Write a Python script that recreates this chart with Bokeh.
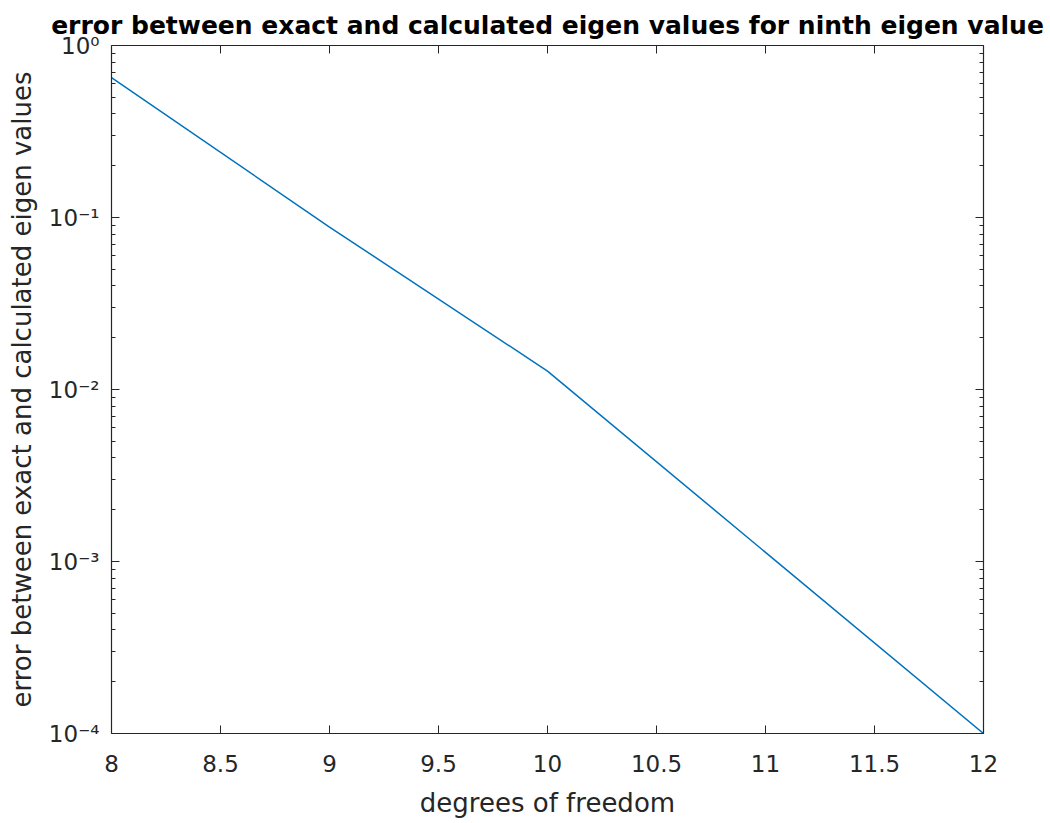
from bokeh.embed import file_html
from bokeh.models import (CustomJSTickFormatter, FixedTicker, LinearAxis,
                          LogAxis, Range1d)
from bokeh.plotting import figure
from bokeh.resources import INLINE

# --- data -------------------------------------------------------------------
dof = [8, 9, 10, 11, 12]
err = [0.65, 0.088, 0.0128, 0.00113, 0.0001]

x_ticks = [8, 8.5, 9, 9.5, 10, 10.5, 11, 11.5, 12]
y_ticks = [1e-4, 1e-3, 1e-2, 1e-1, 1]

title_text = "error between exact and calculated eigen values for ninth eigen value"
x_label = "degrees of freedom"
y_label = "error between exact and calculated eigen values"

# --- styling ----------------------------------------------------------------
FONT = "DejaVu Sans"
INK = "#262626"
LINE = "#0072BD"

y_minor = [m * t for t in y_ticks[:-1] for m in range(2, 10)]

p = figure(
    width=1050, height=823,
    x_range=Range1d(8, 12), y_range=Range1d(1e-4, 1),
    y_axis_type="log",
    output_backend="svg", toolbar_location=None,
    min_border_left=111, min_border_right=67,
    min_border_top=45, min_border_bottom=90,
    background_fill_color="white", border_fill_color="white",
)
p.outline_line_color = None
p.xgrid.visible = False
p.ygrid.visible = False

blank = CustomJSTickFormatter(code="return ''")


def style_axis(ax, show_labels):
    ax.axis_line_color = INK
    ax.axis_line_width = 1.2
    ax.major_tick_line_color = INK
    ax.minor_tick_line_color = INK
    ax.major_tick_in = 8
    ax.major_tick_out = 0
    ax.minor_tick_in = 4
    ax.minor_tick_out = 0
    ax.major_label_text_color = INK
    ax.major_label_text_font = FONT
    ax.axis_label_text_color = INK
    ax.axis_label_text_font = FONT
    ax.axis_label_text_font_style = "normal"
    if not show_labels:
        ax.formatter = blank
        ax.major_label_standoff = 0


xticker = FixedTicker(ticks=x_ticks)
yticker = FixedTicker(ticks=y_ticks, minor_ticks=y_minor)
xfmt = CustomJSTickFormatter(
    code="return Number.isInteger(tick) ? tick.toFixed(0) : tick.toFixed(1)")
# powers of ten written as 10 with a superscript exponent
yfmt = CustomJSTickFormatter(code="""
const sup = {'-': '\u207b', '0': '\u2070', '1': '\u00b9', '2': '\u00b2', '3': '\u00b3',
             '4': '\u2074', '5': '\u2075', '6': '\u2076', '7': '\u2077', '8': '\u2078', '9': '\u2079'};
const e = String(Math.round(Math.log10(tick)));
return '10' + e.split('').map(c => sup[c]).join('');
""")

# bottom axis
xa = p.xaxis[0]
xa.ticker = xticker
xa.formatter = xfmt
style_axis(xa, True)
xa.major_label_text_font_size = "23px"
xa.major_label_standoff = 21
xa.minor_tick_in = 0
xa.axis_label = x_label
xa.axis_label_text_font_size = "26px"
xa.axis_label_standoff = 13

# left axis
ya = p.yaxis[0]
ya.ticker = yticker
style_axis(ya, True)
ya.formatter = yfmt
ya.major_label_text_font_size = "23px"
ya.major_label_standoff = 12
ya.axis_label = y_label
ya.axis_label_text_font_size = "26px"
ya.axis_label_standoff = 9

# box: top and right axes with inward ticks
top = LinearAxis(ticker=xticker)
style_axis(top, False)
top.minor_tick_in = 0
p.add_layout(top, "above")

right = LogAxis(ticker=yticker)
style_axis(right, False)
p.add_layout(right, "right")

# title
p.title.text = title_text
p.title.align = "center"
p.title.text_font = FONT
p.title.text_font_size = "25px"
p.title.text_font_style = "bold"
p.title.text_color = "black"
p.title.standoff = 11

# data line
p.line(dof, err, line_color=LINE, line_width=1.5)

open("out.html", "w").write(file_html(p, INLINE))
